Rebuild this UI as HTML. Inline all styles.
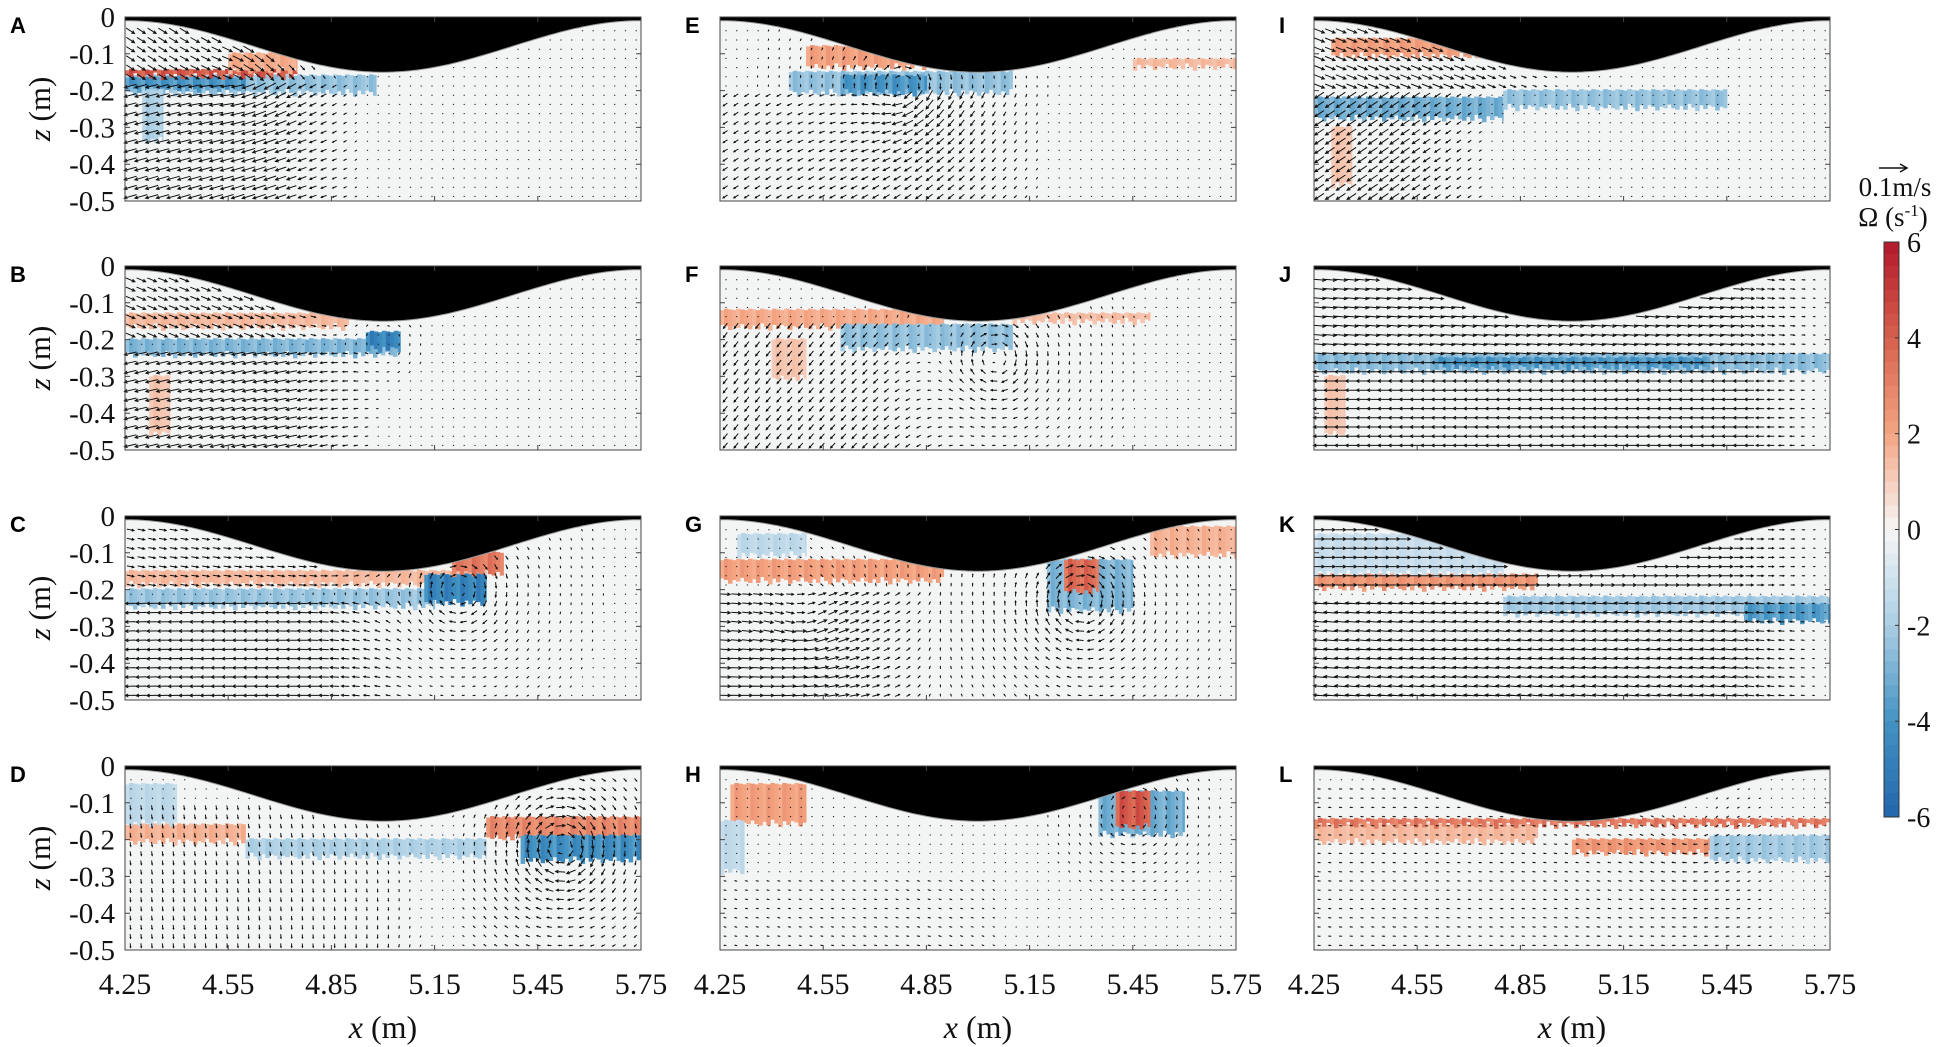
<!DOCTYPE html>
<html><head><meta charset="utf-8">
<style>
html,body{margin:0;padding:0;background:#fff;}
svg{display:block;}
</style></head>
<body>
<svg id="fig" width="1949" height="1047" viewBox="0 0 1949 1047" xmlns="http://www.w3.org/2000/svg"></svg>
<script>
// ---------- data ----------
const panelIds = ['A','B','C','D','E','F','G','H','I','J','K','L'];
const xTicks = [4.25,4.55,4.85,5.15,5.45,5.75];
const xTickLabels = ['4.25','4.55','4.85','5.15','5.45','5.75'];
const zTicks = [0,-0.1,-0.2,-0.3,-0.4,-0.5];
const zTickLabels = ['0','-0.1','-0.2','-0.3','-0.4','-0.5'];
const cbTicks = [6,4,2,0,-2,-4,-6];
// vorticity bands: [x0,x1,zTop,zBot,omega]
const bandsA = [[4.25,4.98,-0.16,-0.2,-2.6],[4.25,4.6,-0.165,-0.19,-4.2],[4.25,4.75,-0.145,-0.155,4.5],[4.55,4.75,-0.1,-0.14,2],[4.3,4.36,-0.2,-0.33,-2]];
const bandsB = [[4.25,5.05,-0.2,-0.235,-3],[4.95,5.05,-0.18,-0.22,-5],[4.25,4.9,-0.13,-0.16,1.6],[4.32,4.38,-0.3,-0.45,1.3]];
const bandsC = [[4.25,5.15,-0.2,-0.24,-2.5],[4.25,5.3,-0.15,-0.18,1.6],[5.12,5.3,-0.16,-0.23,-5],[5.2,5.35,-0.1,-0.15,3.5]];
const bandsD = [[4.25,4.6,-0.16,-0.2,1.8],[4.6,5.3,-0.2,-0.24,-2],[5.3,5.75,-0.14,-0.19,3],[5.4,5.75,-0.19,-0.25,-4.5],[4.25,4.4,-0.05,-0.15,-1.6]];
const bandsE = [[4.45,5.1,-0.15,-0.2,-2.6],[4.6,4.85,-0.16,-0.2,-4.2],[4.5,4.85,-0.08,-0.13,2.3],[5.45,5.75,-0.115,-0.13,1.6]];
const bandsF = [[4.25,4.9,-0.12,-0.16,2],[4.6,5.1,-0.16,-0.22,-2.6],[4.4,4.5,-0.2,-0.3,1.3],[5.1,5.5,-0.13,-0.145,1.5]];
const bandsG = [[4.25,4.9,-0.12,-0.17,2.3],[5.2,5.45,-0.12,-0.25,-3],[5.25,5.35,-0.12,-0.2,4],[4.3,4.5,-0.05,-0.1,-1.6],[5.5,5.75,-0.03,-0.1,1.8]];
const bandsH = [[4.28,4.5,-0.05,-0.15,2.3],[5.35,5.6,-0.07,-0.18,-3.3],[5.4,5.5,-0.07,-0.16,4.5],[4.25,4.32,-0.15,-0.28,-1.5]];
const bandsI = [[4.25,4.8,-0.22,-0.27,-3.3],[4.8,5.45,-0.2,-0.24,-2.6],[4.3,4.9,-0.06,-0.1,2.3],[4.3,4.36,-0.3,-0.45,1.3]];
const bandsJ = [[4.25,5.75,-0.24,-0.28,-2.8],[4.6,5.4,-0.25,-0.27,-4.2],[4.28,4.34,-0.3,-0.45,1.3]];
const bandsK = [[4.25,4.9,-0.16,-0.19,2.6],[4.8,5.75,-0.22,-0.26,-2.3],[5.5,5.75,-0.24,-0.28,-4],[4.25,4.8,-0.05,-0.15,-1.3]];
const bandsL = [[4.25,4.9,-0.16,-0.2,1.6],[5.0,5.4,-0.2,-0.23,2.6],[5.4,5.75,-0.19,-0.25,-2.3],[4.25,5.75,-0.145,-0.155,3.5]];
// mean flow regions: [x0,x1,zTop,zBot,u,w] (m/s)
const flowA = [[4.25,4.95,-0.17,-0.5,-0.06,-0.02],[4.25,4.9,0,-0.17,0.04,-0.03]];
const flowB = [[4.25,5.0,-0.22,-0.5,-0.06,-0.015],[4.25,4.95,0,-0.2,0.045,-0.02]];
const flowC = [[4.25,5.1,-0.22,-0.5,-0.05,-0.005],[4.25,5.1,0,-0.2,0.035,-0.01]];
const flowD = [[4.25,5.3,-0.1,-0.5,0.003,-0.025]];
const flowE = [[4.25,5.2,-0.2,-0.5,-0.02,-0.02]];
const flowF = [[4.25,5.0,-0.16,-0.5,-0.02,-0.03]];
const flowG = [[4.25,4.9,-0.2,-0.5,0.05,0]];
const flowH = [[4.25,5.2,-0.3,-0.5,-0.01,0]];
const flowI = [[4.25,4.8,-0.2,-0.5,-0.045,-0.03],[4.25,5.0,0,-0.2,0.05,-0.02]];
const flowJ = [[4.25,5.75,0,-0.24,0.06,-0.005],[4.25,5.75,-0.26,-0.5,-0.06,0]];
const flowK = [[4.25,5.75,0,-0.2,0.05,0],[4.25,5.75,-0.22,-0.5,-0.06,0.005]];
const flowL = [[4.25,5.75,-0.05,-0.5,-0.012,0]];
// vortices: [x,z,gamma]
const vortA = [[4.6,-0.18,-0.008]];
const vortB = [[5.0,-0.21,-0.006]];
const vortC = [[5.22,-0.2,-0.02]];
const vortD = [[5.52,-0.22,-0.03]];
const vortE = [[4.78,-0.19,-0.02]];
const vortF = [[5.05,-0.25,-0.02]];
const vortG = [[5.3,-0.23,-0.025],[4.5,-0.3,0.01]];
const vortH = [[5.45,-0.13,-0.012]];
const vortI = [];
const vortJ = [];
const vortK = [];
const vortL = [[5.35,-0.17,-0.005]];

const bands = {A:bandsA,B:bandsB,C:bandsC,D:bandsD,E:bandsE,F:bandsF,G:bandsG,H:bandsH,I:bandsI,J:bandsJ,K:bandsK,L:bandsL};
const flows = {A:flowA,B:flowB,C:flowC,D:flowD,E:flowE,F:flowF,G:flowG,H:flowH,I:flowI,J:flowJ,K:flowK,L:flowL};
const vorts = {A:vortA,B:vortB,C:vortC,D:vortD,E:vortE,F:vortF,G:vortG,H:vortH,I:vortI,J:vortJ,K:vortK,L:vortL};

// ---------- layout ----------
const NS='http://www.w3.org/2000/svg';
const svg=document.getElementById('fig');
const colL=[125,720,1314], colW=516;
const rowT=[17,266,516,766], rowH=184;
function mk(tag,attrs,parent){const e=document.createElementNS(NS,tag);for(const k in attrs)e.setAttribute(k,attrs[k]);(parent||svg).appendChild(e);return e;}
const stops=[[-6,[33,102,172]],[-4,[67,147,195]],[-2,[170,206,228]],[0,[247,247,247]],[2,[244,165,130]],[4,[214,96,77]],[6,[178,24,43]]];
function cmap(v){v=Math.max(-6,Math.min(6,v));for(let i=0;i<stops.length-1;i++){const a=stops[i],b=stops[i+1];if(v<=b[0]){const t=(v-a[0])/(b[0]-a[0]);const c=a[1].map((q,j)=>Math.round(q+(b[1][j]-q)*t));return `rgb(${c[0]},${c[1]},${c[2]})`;}}return 'rgb(178,24,43)';}
function surf(x){return -0.01-0.07*(1+Math.cos(2*Math.PI*(x-5.0)/1.5));}

panelIds.forEach((id,idx)=>{
  const col=Math.floor(idx/4), row=idx%4;
  const L=colL[col], T=rowT[row], W=colW, H=rowH;
  const X=x=>L+(x-4.25)/1.5*W;
  const Z=z=>T+(-z)/0.5*H;
  const g=mk('g',{});
  
  
  const bg=mk('rect',{x:L,y:T,width:W,height:H,fill:'#f3f5f5'},g);
  
  
  bands[id].forEach((b,bi)=>{
    const x0=X(b[0]),x1=X(b[1]);
    const sw=4;
    for(let sx=x0,k=0;sx<x1;sx+=sw,k++){
      const ext=((k*7+bi*3)%5)*0.004;
      const r=mk('rect',{x:sx,y:Z(b[2]+((k*5)%3)*0.002),width:Math.min(sw,x1-sx)+0.5,height:Z(b[3]-ext)-Z(b[2]),fill:cmap(b[4]*(0.8+((k*3)%4)*0.08))},g);
      
      
    }
  });
  let d='';
  const nx=48,nz=20;
  for(let i=0;i<nx;i++){for(let j=0;j<nz;j++){
    const x=4.25+(i+0.5)*1.5/nx, z=-(j+0.5)*0.5/nz;
    if(z>surf(x)-0.01)continue;
    let u=0,w=0;
    flows[id].forEach(f=>{if(x>=f[0]&&x<=f[1]&&z<=f[2]&&z>=f[3]){const fx=Math.min(1,(f[1]-x)/0.3);u+=f[4]*fx;w+=f[5]*fx;}});
    vorts[id].forEach(v=>{const dx=x-v[0],dz=z-v[1];const r2=dx*dx+dz*dz+1e-6;const core=1-Math.exp(-r2/0.004);const s=v[2]/(2*Math.PI*r2)*core;u+=-s*dz;w+=s*dx;});
    let px=u/0.1*20, py=-w/0.1*20;
    let len=Math.hypot(px,py); if(len>14){px*=14/len;py*=14/len;len=14;}
    const sx=X(x)-px/2, sy=Z(z)-py/2, ex=sx+px, ey=sy+py;
    if(len<1.5){d+=`M${X(x).toFixed(1)} ${Z(z).toFixed(1)}h1.2`;continue;}
    d+=`M${sx.toFixed(1)} ${sy.toFixed(1)}L${ex.toFixed(1)} ${ey.toFixed(1)}`;
    const ux=px/len,uy=py/len,hl=Math.min(3,len*0.3);
    d+=`M${(ex-ux*hl-uy*hl*0.5).toFixed(1)} ${(ey-uy*hl+ux*hl*0.5).toFixed(1)}L${ex.toFixed(1)} ${ey.toFixed(1)}L${(ex-ux*hl+uy*hl*0.5).toFixed(1)} ${(ey-uy*hl-ux*hl*0.5).toFixed(1)}`;
  }}
  const ar=mk('path',{d:d,stroke:'#111',fill:'none','stroke-width':1},g);
  
  
  let sp=`M${X(4.25)} ${T}`;
  for(let k=0;k<=150;k++){const x=4.25+k*1.5/150;sp+=`L${X(x).toFixed(1)} ${Z(surf(x)).toFixed(1)}`;}
  sp+=`L${X(5.75)} ${T}Z`;
  const s=mk('path',{d:sp,fill:'#000',stroke:'#999','stroke-width':1},g);
  
  
  const fr=mk('rect',{x:L,y:T,width:W,height:H,fill:'none',stroke:'#444','stroke-width':1},g);
  
  
  let td='';
  xTicks.forEach(t=>{td+=`M${X(t)} ${T+H}v-5M${X(t)} ${T}v5`;});
  zTicks.forEach(t=>{td+=`M${L} ${Z(t)}h5M${L+W} ${Z(t)}h-5`;});
  const tk=mk('path',{d:td,stroke:'#444','stroke-width':1},g);
  
  
  const lt=mk('text',{x:col===0?10:L-35,y:T+16,'font-family':'Liberation Sans, sans-serif','font-weight':'bold','font-size':22,fill:'#000'},g);
  lt.textContent=id;
  
  
  if(col===0){
    zTicks.forEach((t,k)=>{const tx=mk('text',{x:115,y:Z(t)+10,'font-family':'Liberation Serif, serif','font-size':29,'text-anchor':'end',fill:'#111'},g);tx.textContent=zTickLabels[k];
      
      });
    const yt=mk('text',{x:0,y:0,transform:`translate(50 ${T+H/2}) rotate(-90)`,'font-family':'Liberation Serif, serif','font-size':31,'text-anchor':'middle',fill:'#111'},g);
    yt.innerHTML='<tspan font-style="italic">z</tspan> (m)';
    
    
  }
  if(row===3){
    xTicks.forEach((t,k)=>{const tx=mk('text',{x:X(t),y:T+H+44,'font-family':'Liberation Serif, serif','font-size':30,'text-anchor':'middle',fill:'#111'},g);tx.textContent=xTickLabels[k];
      
      });
    const xt=mk('text',{x:L+W/2,y:T+H+88,'font-family':'Liberation Serif, serif','font-size':32,'text-anchor':'middle',fill:'#111'},g);
    xt.innerHTML='<tspan font-style="italic">x</tspan> (m)';
    
    
  }
});

// ---------- colorbar ----------
const cbX=1884, cbW=15, cbT=242, cbB=817;
const cbg=mk('g',{});


const nSeg=48;
for(let k=0;k<nSeg;k++){
  const v=6-(k+0.5)*12/nSeg;
  const r=mk('rect',{x:cbX,y:cbT+k*(cbB-cbT)/nSeg,width:cbW,height:(cbB-cbT)/nSeg+0.5,fill:cmap(v)},cbg);
  
  
}
const cbf=mk('rect',{x:cbX,y:cbT,width:cbW,height:cbB-cbT,fill:'none',stroke:'#333','stroke-width':1},cbg);


cbTicks.forEach(t=>{
  const y=cbT+(6-t)/12*(cbB-cbT);
  const l=mk('path',{d:`M${cbX+cbW} ${y}h-4`,stroke:'#333'},cbg);
  
  
  const tx=mk('text',{x:cbX+cbW+8,y:y+10,'font-family':'Liberation Serif, serif','font-size':28,fill:'#111'},cbg);
  tx.textContent=String(t);
  
  
});
const ra=mk('path',{d:'M1879 168h28M1900 164l7 4l-7 4',stroke:'#111',fill:'none','stroke-width':1.5});


const rt=mk('text',{x:1895,y:196,'font-family':'Liberation Serif, serif','font-size':27,'text-anchor':'middle',fill:'#111'});
rt.textContent='0.1m/s';


const ot=mk('text',{x:1893,y:226,'font-family':'Liberation Serif, serif','font-size':27,'text-anchor':'middle',fill:'#111'});
ot.innerHTML='Ω (s<tspan dy="-10" font-size="17">-1</tspan><tspan dy="10">)</tspan>';


</script>
</body></html>
